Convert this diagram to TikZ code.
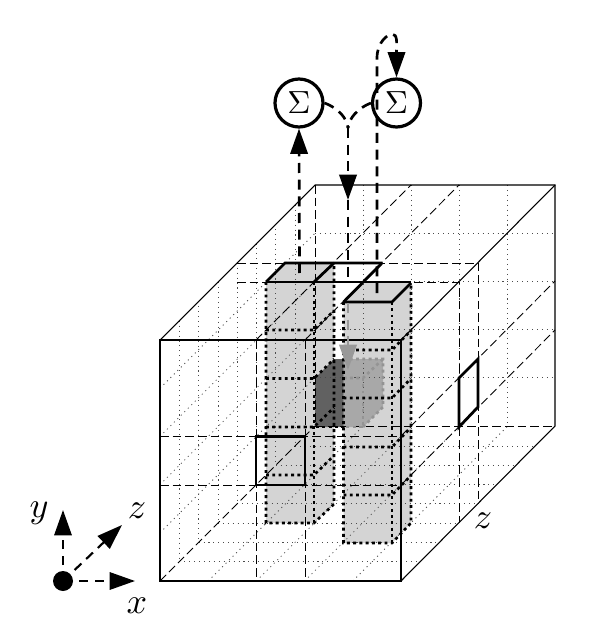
\documentclass[tikz,border=0pt]{standalone}
\usepackage{graphicx}
\usetikzlibrary{arrows.meta}
\tikzset{
  finedot/.style={line width=0.6pt,black!70,dash pattern=on 0.8pt off 2.9pt},
  griddash/.style={line width=0.65pt,black,dash pattern=on 6.5pt off 3pt},
  gridsolid/.style={line width=0.8pt,black},
  celldot/.style={line width=2pt,black,dash pattern=on 2.2pt off 2.5pt},
  celldotgray/.style={line width=2pt,black!42,dash pattern=on 2.2pt off 2.5pt},
  thickedge/.style={line width=2.1pt,black},
  flow/.style={line width=2pt,black,dash pattern=on 7.5pt off 5pt},
  flowgray/.style={line width=2pt,black!40,dash pattern=on 7.5pt off 5pt},
  bigtip/.style={-{Triangle[length=19pt,width=13pt]}},
  axisline/.style={line width=1.6pt,black,dash pattern=on 7pt off 5pt},
  sumnode/.style={circle,draw,line width=2.4pt,minimum size=36pt,inner sep=0pt,fill=white},
  columnfill/.style={fill=black!17,draw=none}
}
\begin{document}
\begin{tikzpicture}[x=0.75pt,y=-0.75pt]
\useasboundingbox (0,0) rectangle (608,634);
% column fills
\fill[columnfill] (266,282) -- (285,263) -- (334,263) -- (334,504) -- (314,523) -- (266,523) -- cycle;
\fill[columnfill] (343.5,302) -- (363,283) -- (411,283) -- (411,523) -- (392,543) -- (343.5,543) -- cycle;
% inner cube
\fill[black!34] (343.5,359) -- (383,359) -- (383,407) -- (363,427) -- (343.5,427) -- cycle;
\fill[black!62] (315,378) -- (334,359) -- (343.5,359) -- (343.5,427) -- (315,427) -- cycle;
% fine dotted grid
\foreach \k in {1,...,7}{
  \draw[finedot] ({160+19.3*\k},{340-19.3*\k}) -- ({160+19.3*\k},{581-19.3*\k});
  \draw[finedot] ({160+19.3*\k},{581-19.3*\k}) -- ({401+19.3*\k},{581-19.3*\k});
}
\foreach \j in {1,...,4}{
  \draw[finedot] (160,{340+48.2*\j}) -- (315,{185+48.2*\j});
  \draw[finedot] ({160+48.2*\j},581) -- ({315+48.2*\j},426);
  \draw[finedot] ({315+48.2*\j},185) -- ({315+48.2*\j},426);
  \draw[finedot] (315,{185+48.2*\j}) -- (555,{185+48.2*\j});
}
% dashed planes
\draw[griddash] (256,340) -- (256,581);
\draw[griddash] (305,340) -- (305,581);
\draw[griddash] (160,436) -- (401,436);
\draw[griddash] (160,485) -- (401,485);
\draw[griddash] (256,340) -- (411,185);
\draw[griddash] (305,340) -- (459,185);
\draw[griddash] (401,436) -- (555,281);
\draw[griddash] (401,485) -- (555,330);
\draw[griddash] (237,282) -- (459,282) -- (459,523);
\draw[griddash] (237,263) -- (478,263) -- (478,504);
\draw[griddash] (315,185) -- (315,426);
\draw[griddash] (315,426) -- (555,426);
\draw[griddash] (160,581) -- (315,426);
% box outline
\draw[gridsolid] (160,340) rectangle (401,581);
\draw[gridsolid] (160,340) -- (315,185) -- (555,185) -- (555,426) -- (401,581);
\draw[gridsolid] (401,340) -- (555,185);
% inner cube edges
\draw[celldotgray] (343.5,359) -- (383,359) -- (383,407) -- (363,427);
\draw[celldotgray] (383,359) -- (363,378) -- (343.5,378);
\draw[celldotgray] (363,378) -- (363,427) -- (343.5,427);
% column cell lines
\foreach \y in {330,378.5,427,475}{
  \draw[celldot] (266,\y) -- (314,\y) -- (334,{\y-19.5});
}
\foreach \y in {350,398,447,495}{
  \draw[celldot] (343.5,\y) -- (392,\y) -- (411,{\y-19.5});
}
\draw[celldot] (266,282) -- (266,523) -- (314,523) -- (334,504) -- (334,263);
\draw[celldot] (314,282) -- (314,523);
\draw[celldot] (343.5,302) -- (343.5,543) -- (392,543) -- (411,523) -- (411,283);
\draw[celldot] (392,302) -- (392,543);
\draw[celldot] (266,427) -- (314,427) -- (343.5,427);
% column tops
\draw[thickedge] (266,282) -- (285,263) -- (382,263);
\draw[thickedge] (266,282) -- (411,282);
\draw[thickedge] (314,282) -- (334,263);
\draw[thickedge] (343.5,302) -- (382,263);
\draw[thickedge] (343.5,302) -- (392,302) -- (411,283);
% marked cells
\draw[thickedge] (256,436.5) rectangle (305,485);
\draw[thickedge] (459,427) -- (459,378) -- (478,359) -- (478,407) -- cycle;
% sum nodes
\node[sumnode] (sigL) at (299,103) {\scalebox{2.4}{$\Sigma$}};
\node[sumnode] (sigR) at (396.5,103) {\scalebox{2.4}{$\Sigma$}};
% connectors
\coordinate (outL) at (299.5,273);
\coordinate (joinV) at (348,128);
\coordinate (midTip) at (348,200);
\coordinate (midEnd) at (348,282);
\coordinate (grayStart) at (348,303);
\coordinate (grayTip) at (348,370);
\coordinate (riseStart) at (377,293);
\coordinate (riseTop) at (377,58);
\draw[flow,bigtip] (outL) -- (sigL.south);
\draw[flow] (sigL.east) .. controls (338,108) and (347,118) .. (joinV);
\draw[flow] (sigR.west) .. controls (358,108) and (349,118) .. (joinV);
\draw[flow,bigtip] (joinV) -- (midTip);
\draw[flow] (midTip) -- (midEnd);
\draw[flowgray,bigtip,black!40] (grayStart) -- (grayTip);
\draw[flow,bigtip] (riseStart) -- (riseTop) .. controls (377,42) and (388,34) .. (392,34) .. controls (398,34) and (396.5,44) .. (sigR.north);
% axes
\node[circle,fill=black,inner sep=0pt,minimum size=15pt] (orig) at (63,581) {};
\coordinate (xTip) at (135,581);
\coordinate (yTip) at (63,510);
\coordinate (zTip) at (122,525);
\draw[axisline,bigtip] (orig.center) -- (xTip);
\draw[axisline,bigtip] (orig.center) -- (yTip);
\draw[axisline,bigtip] (orig.center) -- (zTip);
\node (xlab) at (137,606) {\scalebox{2.7}{$x$}};
\node (ylab) at (39,513) {\scalebox{2.7}{$y$}};
\node (zlab) at (137,511) {\scalebox{2.7}{$z$}};
\node (zbox) at (483,521) {\scalebox{2.7}{$z$}};
\end{tikzpicture}
\end{document}
